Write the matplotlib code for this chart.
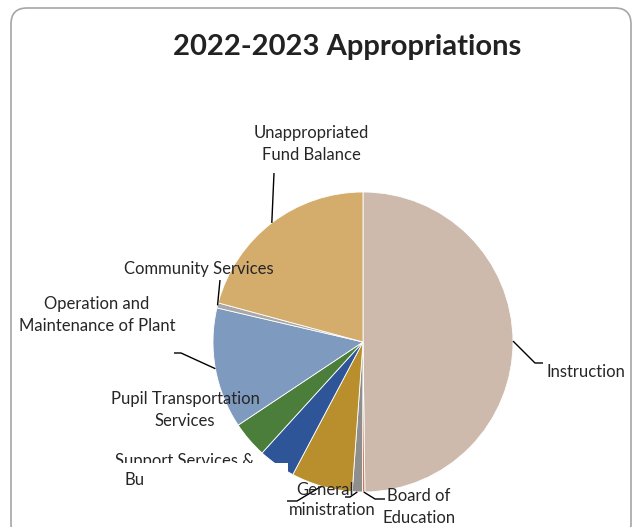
import numpy as np
import matplotlib.pyplot as plt
from matplotlib.patches import FancyBboxPatch, Rectangle

W, H = 637, 527

categories = ["Instruction", "Board of Education", "General Administration",
              "School Administration", "Support Services & Business",
              "Pupil Transportation Services", "Operation and Maintenance of Plant",
              "Community Services", "Unappropriated Fund Balance"]
shares = [49.8, 0.25, 1.1, 6.6, 4.0, 3.9, 13.0, 0.55, 20.8]
colors = ["#CDBAAD", "#D27A50", "#8E8E8E", "#B98F2E", "#2D5597",
          "#4B7D3B", "#7E9BBF", "#A8A8A8", "#D4AD6D"]

CX, CY, R = 363, 342, 150
TEXT = "#262626"
FS = 12
plt.rcParams['font.family'] = ['Lato', 'DejaVu Sans']


def py(y):
    # pixel row -> data y (axes run bottom-up)
    return H - y


fig = plt.figure(figsize=(W / 100, H / 100), dpi=100)
ax = fig.add_axes([0, 0, 1, 1])

frame = FancyBboxPatch((11, py(540)), 620, 532, boxstyle="round,pad=0,rounding_size=16",
                       facecolor="white", edgecolor="#A6A6A6", linewidth=1.2)
ax.add_patch(frame)

ax.pie(shares, colors=colors, startangle=90, counterclock=False, radius=R,
       center=(CX, py(CY)), frame=True,
       wedgeprops=dict(edgecolor="white", linewidth=0.6))
ax.set_xlim(0, W)
ax.set_ylim(0, H)
ax.set_aspect('equal')
ax.axis('off')

# mid-angle of each wedge, clockwise from 12 o'clock
frac = np.array(shares) / np.sum(shares)
mid = (np.cumsum(frac) - frac / 2) * 2 * np.pi


def edge(i):
    return CX + R * np.sin(mid[i]), CY - R * np.cos(mid[i])


def leader(i, *pts, z=2):
    xs, ys = zip(edge(i), *pts)
    ax.plot(xs, [py(v) for v in ys], color="black", lw=1.0,
            solid_capstyle="butt", zorder=z)


def label(txt, x, y, ha="center", z=3):
    ax.text(x, py(y), txt, ha=ha, va="center", fontsize=FS, color=TEXT,
            linespacing=1.45, zorder=z)


ax.text(347, py(47), "2022-2023 Appropriations", ha="center", va="center",
        fontsize=21, fontweight="bold", color="#222222")

leader(0, (535, 363), (543, 363))
label("Instruction", 547, 372, ha="left")

leader(1, (375, 499), (385, 499))
label("Board of\nEducation", 419, 507)

leader(6, (181, 353), (174, 353))
label("Operation and\nMaintenance of Plant", 97, 315)

leader(7, (220, 280))
label("Community Services", 199, 269)

leader(8, (274, 173))
label("Unappropriated\nFund Balance", 311, 144)

label("Pupil Transportation\nServices", 185, 410)
label("Support Services &", 185, 461)

# the lower-left label box sits on top of the pie
ax.add_patch(Rectangle((112, py(527)), 176, 64, facecolor="white",
                       edgecolor="none", zorder=3))

label("Bu", 124, 480, ha="left", z=4)
leader(3, (297, 501), (287, 501), z=4)
leader(2, (350, 497), (345, 497), z=4)
label("General", 325, 490, z=5)
label("ministration", 332, 510, z=5)

fig.savefig("out.png", dpi=100)
